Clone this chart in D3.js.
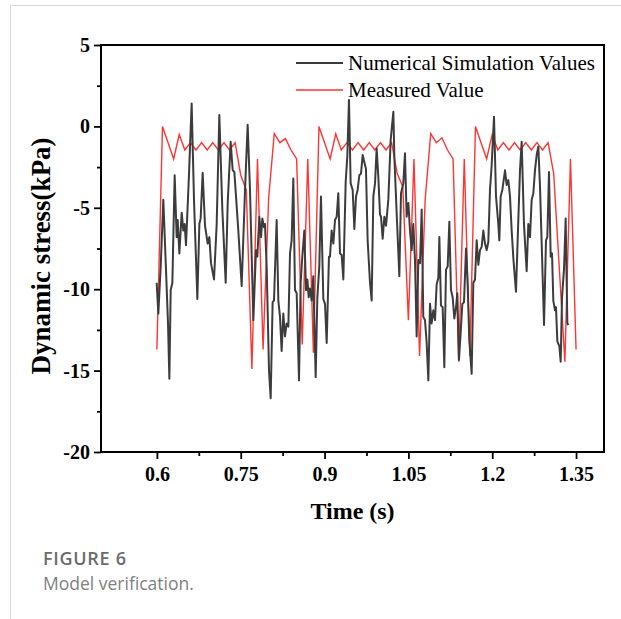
<!DOCTYPE html>
<html>
<head>
<meta charset="utf-8">
<script src="https://cdn.jsdelivr.net/npm/d3@7"></script>
<style>
  body { margin: 0; background: #fff; }
  svg { display: block; }
</style>
</head>
<body>
<svg id="chart" width="621" height="619"></svg>
<script>
// numerical simulation (black line)
const simTime = [0.5996,0.6026,0.6068,0.6115,0.6163,0.6199,0.6223,0.6247,0.6277,0.6318,0.6354,0.6372,0.6402,0.6444,0.6473,0.6497,0.6521,0.6575,0.6622,0.6664,0.6724,0.6760,0.6783,0.6819,0.6861,0.6909,0.6939,0.6968,0.7022,0.7070,0.7117,0.7171,0.7231,0.7267,0.7320,0.7356,0.7386,0.7457,0.7517,0.7577,0.7624,0.7666,0.7726,0.7773,0.7797,0.7833,0.7863,0.7887,0.7916,0.7934,0.7964,0.8006,0.8036,0.8071,0.8095,0.8143,0.8173,0.8203,0.8232,0.8262,0.8292,0.8322,0.8352,0.8382,0.8411,0.8441,0.8471,0.8501,0.8543,0.8572,0.8602,0.8638,0.8668,0.8692,0.8716,0.8739,0.8769,0.8799,0.8841,0.8871,0.8906,0.8936,0.8978,0.9008,0.9038,0.9079,0.9097,0.9127,0.9157,0.9187,0.9217,0.9246,0.9276,0.9306,0.9336,0.9378,0.9407,0.9437,0.9467,0.9503,0.9533,0.9563,0.9592,0.9622,0.9652,0.9682,0.9712,0.9741,0.9771,0.9813,0.9843,0.9873,0.9903,0.9932,0.9962,0.9992,1.0010,1.0040,1.0070,1.0100,1.0141,1.0183,1.0231,1.0249,1.0290,1.0338,1.0368,1.0409,1.0439,1.0469,1.0499,1.0529,1.0559,1.0588,1.0618,1.0648,1.0678,1.0708,1.0738,1.0767,1.0797,1.0827,1.0857,1.0887,1.0916,1.0946,1.0976,1.1006,1.1036,1.1054,1.1083,1.1113,1.1143,1.1173,1.1203,1.1233,1.1262,1.1292,1.1322,1.1352,1.1376,1.1405,1.1435,1.1465,1.1495,1.1531,1.1561,1.1590,1.1632,1.1662,1.1692,1.1722,1.1751,1.1781,1.1811,1.1841,1.1871,1.1901,1.1930,1.1960,1.1990,1.2032,1.2068,1.2109,1.2127,1.2151,1.2181,1.2229,1.2258,1.2288,1.2318,1.2348,1.2378,1.2425,1.2467,1.2497,1.2527,1.2568,1.2616,1.2646,1.2676,1.2706,1.2736,1.2765,1.2795,1.2825,1.2855,1.2885,1.2927,1.2962,1.2986,1.3016,1.3046,1.3070,1.3093,1.3123,1.3141,1.3165,1.3201,1.3225,1.3249,1.3284,1.3314,1.3344,1.3362];
const simStress = [-9.6,-11.5,-8.6,-4.5,-8.8,-12.1,-15.5,-10.05,-9.6,-3.0,-6.8,-5.75,-7.8,-5.3,-6.4,-6.0,-7.3,-2.9,1.4,-4.5,-10.6,-6.0,-5.65,-2.85,-6.1,-7.2,-6.8,-8.4,-9.4,-6.0,0.7,-5.1,-9.6,-4.7,-0.94,-2.68,-2.8,-6.4,-9.8,-3.9,0.1,-3.9,-11.9,-7.6,-8.0,-5.55,-6.8,-5.65,-6.2,-6.0,-8.6,-15.0,-16.7,-10.8,-10.7,-5.75,-10.7,-11.7,-13.8,-11.5,-12.9,-12.1,-12.3,-7.8,-7.0,-3.2,-10.05,-10.25,-15.6,-9.6,-8.0,-6.4,-10.05,-9.4,-10.5,-9.95,-10.7,-9.2,-15.4,-10.5,-8.6,-4.3,-10.6,-10.9,-13.3,-8.0,-8.0,-6.4,-7.2,-5.75,-5.55,-4.1,-7.8,-7.9,-9.4,-3.4,-1.86,1.62,-3.5,-3.9,-6.3,-4.3,-3.9,-3.0,-2.9,-1.76,-2.2,-2.6,-7.0,-9.6,-10.7,-4.3,-3.5,-1.35,-3.1,-5.4,-5.55,-6.9,-5.55,-6.1,-4.5,-0.83,0.9,-1.86,-5.3,-9.2,-4.1,-3.5,-1.65,-5.55,-4.7,-6.4,-7.6,-6.0,-8.2,-12.9,-8.2,-8.4,-5.1,-11.7,-11.9,-13.3,-15.6,-10.9,-12.1,-11.3,-11.9,-9.7,-9.3,-6.8,-11.0,-11.1,-14.8,-8.8,-8.6,-5.85,-10.05,-10.5,-11.8,-11.1,-10.25,-14.35,-12.7,-10.9,-10.8,-7.5,-9.8,-13.1,-15.2,-9.6,-9.4,-7.0,-8.5,-7.6,-7.4,-6.4,-7.2,-7.6,-7.1,-3.9,-2.4,0.6,-4.3,-6.0,-7.0,-4.3,-3.9,-2.7,-3.6,-3.3,-4.3,-6.4,-8.1,-10.15,-5.75,-2.7,-0.94,-6.0,-8.9,-6.0,-6.8,-4.5,-4.1,-2.7,-1.76,-1.25,-3.7,-7.2,-12.2,-7.0,-6.8,-2.8,-8.0,-7.8,-10.7,-11.3,-11.1,-13.2,-13.5,-14.45,-10.5,-8.8,-5.65,-12.1,-12.2];

// measured values (red line)
const measTime = [0.60,0.61,0.62,0.63,0.64,0.65,0.66,0.67,0.68,0.69,0.70,0.71,0.72,0.73,0.74,0.75,0.76,0.77,0.78,0.79,0.80,0.81,0.82,0.83,0.84,0.85,0.86,0.87,0.88,0.89,0.90,0.91,0.92,0.93,0.94,0.95,0.96,0.97,0.98,0.99,1.00,1.01,1.02,1.03,1.04,1.05,1.06,1.07,1.08,1.09,1.10,1.11,1.12,1.13,1.14,1.15,1.16,1.17,1.18,1.19,1.20,1.21,1.22,1.23,1.24,1.25,1.26,1.27,1.28,1.29,1.30,1.31,1.32,1.33,1.34,1.35];
const measStress = [-13.7,0,-1,-2,-0.5,-1.45,-1,-1.45,-1,-1.45,-1,-1.45,-1,-1.45,-1,-3,-3.9,-14.9,-2,-13.7,-4.4,-0.45,-1,-0.75,-1.45,-2,-13.4,-2,-13.9,0,-1,-2,-0.45,-1.45,-1,-1.45,-1,-1.45,-1,-1.45,-1,-1.45,-1,-2.9,-3.7,-11.9,-2,-14.1,-4.5,-0.45,-1,-0.7,-1.45,-2,-14.45,-2,-14.1,0,-1,-2,-0.5,-1.45,-1,-1.45,-1,-1.45,-1,-1.45,-1,-1.45,-1,-2.9,-8.7,-14.45,-2,-13.7];

const xTicks = [0.6, 0.75, 0.9, 1.05, 1.2, 1.35];
const xMinorTicks = [0.675, 0.825, 0.975, 1.125, 1.275];
const yTicks = [5, 0, -5, -10, -15, -20];
const yMinorTicks = [2.5, -2.5, -7.5, -12.5, -17.5];
const seriesNames = ["Numerical Simulation Values", "Measured Value"];
const seriesColors = ["#3c3c3c", "#ff3434"];

const svg = d3.select("#chart");
const serif = "'Liberation Serif', 'Times New Roman', serif";

// 外框（页面的浅灰色边线）
svg.append("path")
  .attr("d", "M10.5,619 L10.5,5.5 L621,5.5")
  .attr("fill", "none")
  .attr("stroke", "#d8d8d8")
  .attr("stroke-width", 1);

const x = d3.scaleLinear().domain([0.5, 1.4]).range([101, 604]);
const y = d3.scaleLinear().domain([-20, 5]).range([452, 45]);

const line = d3.line()
  .x(d => x(d[0]))
  .y(d => y(d[1]));

// data lines
svg.append("path")
  .datum(measTime.map((t, i) => [t, measStress[i]]))
  .attr("d", line)
  .attr("fill", "none")
  .attr("stroke", seriesColors[1])
  .attr("stroke-width", 1.4)
  .attr("stroke-linejoin", "miter");

svg.append("path")
  .datum(simTime.map((t, i) => [t, simStress[i]]))
  .attr("d", line)
  .attr("fill", "none")
  .attr("stroke", seriesColors[0])
  .attr("stroke-width", 2)
  .attr("stroke-linejoin", "round");

// box frame
svg.append("rect")
  .attr("x", 101).attr("y", 45)
  .attr("width", 503).attr("height", 407)
  .attr("fill", "none")
  .attr("stroke", "#000")
  .attr("stroke-width", 2);

// axes
svg.append("g")
  .attr("transform", "translate(0,452)")
  .call(d3.axisBottom(x).tickValues(xTicks).tickSize(7).tickPadding(8).tickFormat(String));
svg.append("g")
  .attr("transform", "translate(0,452)")
  .call(d3.axisBottom(x).tickValues(xMinorTicks).tickSize(4).tickFormat(""));

svg.append("g")
  .attr("transform", "translate(101,0)")
  .call(d3.axisLeft(y).tickValues(yTicks).tickSize(7).tickPadding(4).tickFormat(String));
svg.append("g")
  .attr("transform", "translate(101,0)")
  .call(d3.axisLeft(y).tickValues(yMinorTicks).tickSize(4).tickFormat(""));

svg.selectAll(".domain").remove();
svg.selectAll(".tick line").attr("stroke", "#000").attr("stroke-width", 1.8);
svg.selectAll(".tick text")
  .attr("fill", "#000")
  .attr("font-family", serif)
  .attr("font-weight", "bold")
  .attr("font-size", 20);

// axis titles
svg.append("text")
  .attr("x", 352.5).attr("y", 519)
  .attr("text-anchor", "middle")
  .attr("font-family", serif)
  .attr("font-weight", "bold")
  .attr("font-size", 24)
  .text("Time (s)");

svg.append("text")
  .attr("transform", "translate(50,256) rotate(-90)")
  .attr("text-anchor", "middle")
  .attr("font-family", serif)
  .attr("font-weight", "bold")
  .attr("font-size", 27)
  .text("Dynamic stress(kPa)");

// legend
const legend = svg.append("g");
seriesNames.forEach((name, i) => {
  const ly = 63 + i * 27;
  legend.append("line")
    .attr("x1", 296).attr("x2", 343)
    .attr("y1", ly).attr("y2", ly)
    .attr("stroke", seriesColors[i])
    .attr("stroke-width", i === 0 ? 2 : 1.4);
  legend.append("text")
    .attr("x", 348).attr("y", ly + 7)
    .attr("font-family", serif)
    .attr("font-size", 21)
    .attr("fill", "#000")
    .text(name);
});

// caption
svg.append("text")
  .attr("x", 43).attr("y", 565)
  .attr("font-family", "'Open Sans', sans-serif")
  .attr("font-weight", 600)
  .attr("font-size", 18)
  .attr("letter-spacing", 0.7)
  .attr("fill", "#6b6b6b")
  .text("FIGURE 6");

svg.append("text")
  .attr("x", 43).attr("y", 590)
  .attr("font-family", "'Open Sans', sans-serif")
  .attr("font-size", 17.5)
  .attr("fill", "#808080")
  .text("Model verification.");
</script>
</body>
</html>
